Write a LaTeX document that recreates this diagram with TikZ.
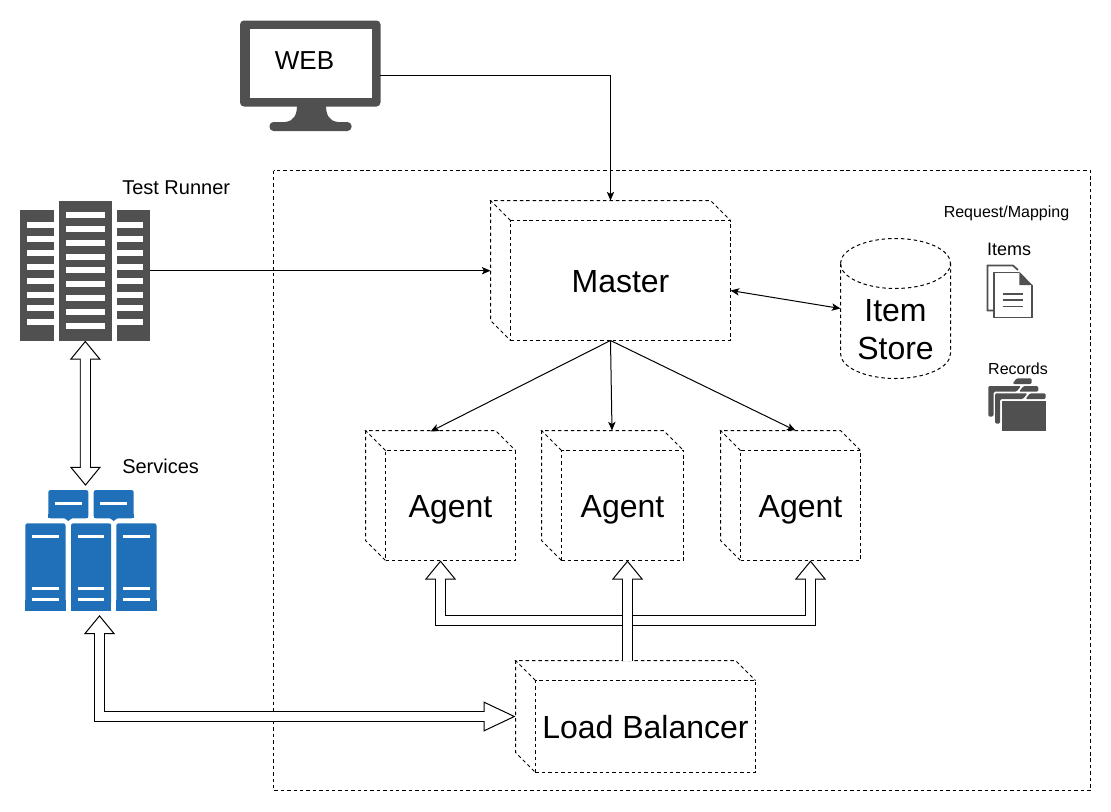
\documentclass[tikz,border=0pt]{standalone}
\usepackage{fontspec}
\setmainfont{Liberation Sans}
\usetikzlibrary{arrows.meta,positioning,calc}
\definecolor{icongray}{HTML}{505050}
\definecolor{iconblue}{HTML}{1F70B8}
\tikzset{thin tip/.tip={Stealth[length=6.5pt,width=5.5pt,inset=1.6pt]}}
\tikzset{thin edge/.style={-thin tip, line width=0.75pt}}
\tikzset{thin both/.style={thin tip-thin tip, line width=0.75pt}}
\tikzset{block edge/.style={draw=black, line width=0.75pt, double=white, double distance=6.75pt}}
\tikzset{block core/.style={draw=white, line width=6.75pt}}
\tikzset{block tip/.tip={Triangle[open, fill=white, length=14.25pt, width=23.25pt]}}
\tikzset{long tip/.tip={Triangle[open, fill=white, length=24pt, width=22.5pt]}}
\tikzset{dash line/.style={draw=black, line width=0.75pt, dash pattern=on 2.6pt off 2.2pt}}
\tikzset{cube face/.style={dash line, inner sep=0pt, outer sep=0pt, font=\fontsize{24}{28}\selectfont, text height=18.7pt, text depth=0pt, align=center}}
\tikzset{cube back/.style={inner sep=0pt, outer sep=0pt}}
\tikzset{icon box/.style={inner sep=0pt, outer sep=0pt}}
\tikzset{cap label/.style={inner sep=0pt, anchor=west, font=\fontsize{15}{18}\selectfont}}
\tikzset{slot/.style={fill=white}}
\tikzset{gray fill/.style={fill=icongray}}
\tikzset{blue fill/.style={fill=iconblue, rounded corners=1.7pt}}
\tikzset{doc line/.style={draw=icongray, line width=1.3pt}}
% x0 y0 x1 y1 = outer box, depth fixed at 20
\newcommand{\cubebox}[6]{%
  \node[cube back, minimum width={(#4-#2)*0.75pt}, minimum height={(#5-#3)*0.75pt}] (#1 back) at ({(#2+#4)/2},{(#3+#5)/2}) {};
  \node[cube face, minimum width={(#4-#2-20)*0.75pt}, minimum height={(#5-#3-20)*0.75pt}] (#1) at ({(#2+#4)/2+10},{(#3+#5)/2+10}) {#6};
  \draw[dash line] (#1.north west) -- ++(-20,-20) -- ++(#4-#2-20,0) -- (#1.north east);
  \draw[dash line] (#1.north west) ++(-20,-20) -- ++(0,#5-#3-20) -- (#1.south west);
}
% tips, shortening of the white core, path
\newcommand{\blockline}[3]{%
  \draw[block edge,#1] #3;
  \draw[block core,#2] #3;
}
\begin{document}
\begin{tikzpicture}[x=0.75pt,y=-0.75pt]
	\useasboundingbox (0,0) rectangle (1111,811);
	\fill[white] (0,0) rectangle (1111,811);
	\draw[dash line] (273.5,170.5) rectangle (1090.5,790.5);

	% web monitor
	\node[icon box, minimum width=105pt, minimum height=82.5pt] (web) at (310,75.5) {};
	\fill[gray fill, rounded corners=3pt] (240,20.5) rectangle (380.5,106.5);
	\fill[white] (249.5,29) rectangle (371.5,97.5);
	\fill[gray fill] (297,105) .. controls (297,115) and (294,121) .. (285,122) -- (338,122) .. controls (329,121) and (326,115) .. (326,105) -- cycle;
	\fill[gray fill, rounded corners=3pt] (269.5,122) rectangle (351.5,131);
	\node[inner sep=0pt, font=\fontsize{19.5}{24}\selectfont] (web label) at (304.5,60.5) {WEB};

	% test runner
	\node[icon box, minimum width=97.5pt, minimum height=105pt] (runner) at (85.3,270.7) {};
	\fill[gray fill] (20,210) rectangle (53.5,340.7);
	\fill[gray fill] (59,200.7) rectangle (112,340.7);
	\fill[gray fill] (117.3,210) rectangle (150.3,340.7);
	\foreach \i in {0,...,7} {
		\fill[slot] (27.3,{222+13.9*\i}) rectangle (54,{228+13.9*\i});
		\fill[slot] (117,{222+13.9*\i}) rectangle (143.3,{228+13.9*\i});
	}
	\foreach \i in {0,...,8}
		\fill[slot] (66,{212+13.85*\i}) rectangle (104.7,{218+13.85*\i});
	\node[cap label] (runner label) at (122,187.5) {Test Runner};

	% services
	\node[icon box, minimum width=98.25pt, minimum height=90.75pt] (services) at (90.8,550.3) {};
	\foreach \x in {48.3,93.7} {
		\fill[blue fill] (\x,518.3) -- (\x,490) -- (\x+40,490) -- (\x+40,518.3) -- cycle;
		\fill[iconblue] (\x,514) rectangle (\x+40,518.3);
		\fill[iconblue] (\x+16,518) -- (\x+20,521) -- (\x+24,518) -- cycle;
		\fill[slot] (\x+6.7,501.7) rectangle (\x+33.4,505);
	}
	\foreach \x in {25.3,71,116.3} {
		\fill[iconblue, rounded corners=1.7pt] (\x,605) -- (\x,523.3) -- (\x+40.2,523.3) -- (\x+40.2,605) -- cycle;
		\fill[iconblue] (\x,600) rectangle (\x+40.2,610.7);
		\fill[slot] (\x+7,535) rectangle (\x+33.4,538.3);
		\fill[slot] (\x+7,586.7) rectangle (\x+33.4,590);
		\fill[slot] (\x+7,597.7) rectangle (\x+33.4,601);
	}
	\node[cap label] (services label) at (122,466.5) {Services};

	% boxes
	\cubebox{master}{490.5}{200.5}{730.5}{340.5}{Master}
	\cubebox{agent a}{365.5}{430.5}{515.5}{560.5}{Agent}
	\cubebox{agent b}{541.5}{430.5}{683.5}{560.5}{Agent}
	\cubebox{agent c}{720.5}{430.5}{860.5}{560.5}{Agent}
	\cubebox{balancer}{515.5}{660.5}{755.5}{772.5}{Load Balancer}

	% item store
	\node[icon box, minimum width=82.5pt, minimum height=105pt] (store box) at (895.5,308.5) {};
	\draw[dash line] (store box.north west) ++(0,25) arc[x radius=55, y radius=25, start angle=180, end angle=540];
	\draw[dash line] (store box.north west) ++(0,25) -- ++(0,90) arc[x radius=55, y radius=25, start angle=180, end angle=0] -- ++(0,-90);
	\node[inner sep=0pt, align=center, font=\fontsize{24}{28.5}\selectfont] (store) at (895.5,330) {Item\\Store};

	% legend
	\node[inner sep=0pt, font=\fontsize{12}{14}\selectfont] (legend) at (1006.5,213) {Request/Mapping};
	\node[inner sep=0pt, font=\fontsize{13.5}{16}\selectfont] (items) at (1009,249.5) {Items};
	\node[inner sep=0pt, font=\fontsize{12}{14}\selectfont] (records) at (1018,369) {Records};

	% document icon
	\draw[doc line] (993,310.5) -- (987.5,310.5) -- (987.5,265.5) -- (1013,265.5) -- (1018,270);
	\draw[doc line] (1019,272.5) -- (994,272.5) -- (994,317.5) -- (1031.7,317.5) -- (1031.7,285);
	\fill[gray fill] (1019.3,271.7) -- (1032.4,285) -- (1019.3,285) -- cycle;
	\foreach \y in {294,300,306.5}
		\draw[doc line] (1002.7,\y) -- (1022.7,\y);

	% folder icon
	\fill[gray fill, rounded corners=1pt] (1012.5,384) -- (1016.5,378.3) -- (1031.7,378.3) -- (1031.7,384) -- cycle;
	\fill[gray fill, rounded corners=1pt] (988.3,416.5) -- (988.3,386) -- (1021,386) -- (1016.5,391.7) -- (993.5,391.7) -- (993.5,416.5) -- cycle;
	\fill[gray fill, rounded corners=1pt] (1023.5,386) -- (1038.3,386) -- (1038.3,391.7) -- (1019,391.7) -- cycle;
	\fill[gray fill, rounded corners=1pt] (995,423.5) -- (995,393.3) -- (1027.5,393.3) -- (1023,399) -- (1000.2,399) -- (1000.2,423.5) -- cycle;
	\fill[gray fill, rounded corners=1pt] (1030,393.3) -- (1045.7,393.3) -- (1045.7,399) -- (1025.5,399) -- cycle;
	\fill[gray fill] (1001.7,400.7) rectangle (1045.7,431.3);

	% thin connectors
	\draw[thin edge] (web.east) -| (master back.north);
	\draw[thin edge] (runner.east) -- (runner.east -| master back.west);
	\draw[thin both] ($(master.east)+(0,10)$) -- (store box.west);
	\draw[thin edge] (master back.south) -- ($(agent a back.north)+(-10,1)$);
	\draw[thin edge] (master back.south) -- ($(agent b back.north)+(-0.5,0)$);
	\draw[thin edge] (master back.south) -- ($(agent c back.north)+(5,0)$);

	% block connectors
	\coordinate (fork) at (627.5,620.5);
	\blockline{block tip-block tip}{shorten <=8pt,shorten >=8pt}{(runner.south) -- ($(services.north)+(-5.3,-4)$)}
	\blockline{-block tip}{shorten >=8pt}{(fork) -| ($(agent a.south)+(-10,0)$)}
	\blockline{-block tip}{shorten >=8pt}{(fork) -| ($(agent c.south)+(10,0)$)}
	\blockline{-block tip}{shorten >=8pt}{(balancer back.north -| fork) -- ($(agent b.south)+(5,0)$)}
	\blockline{block tip-long tip}{shorten <=8pt,shorten >=10pt}{($(services.south)+(8.7,4.3)$) |- (balancer back.west)}
\end{tikzpicture}
\end{document}
